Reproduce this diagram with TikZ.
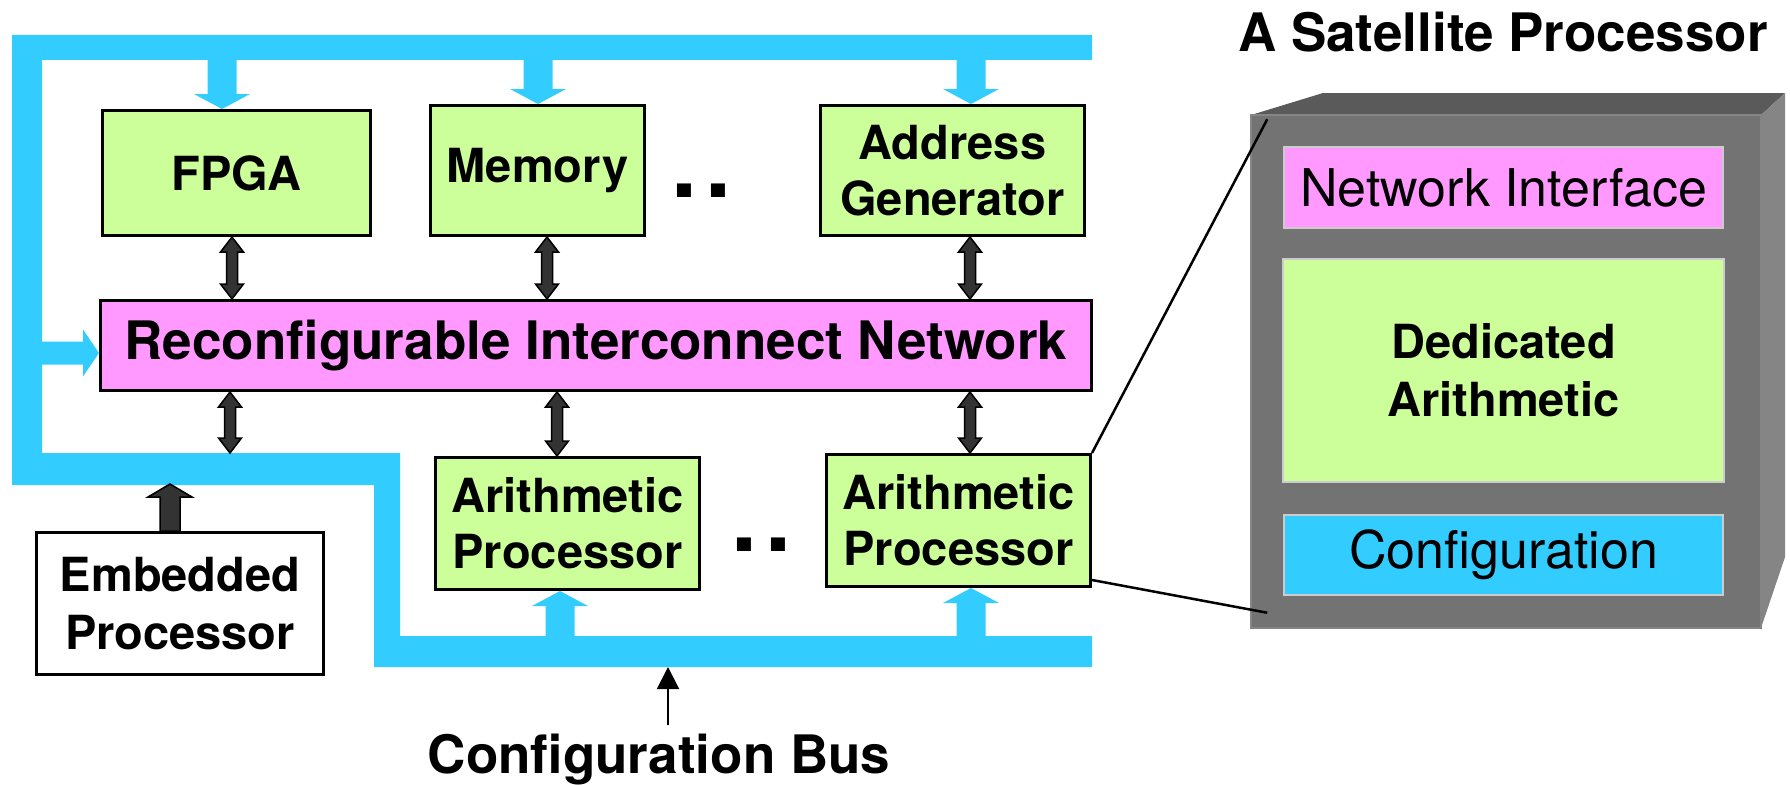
\documentclass[tikz,border=0pt]{standalone}
\usepackage{fontspec}
\setmainfont{TeX Gyre Heros}
\usetikzlibrary{calc,arrows.meta}

\definecolor{busblue}{HTML}{33CCFF}
\definecolor{boxgreen}{HTML}{CCFF99}
\definecolor{boxpink}{HTML}{FF99FF}
\definecolor{arrgray}{HTML}{333333}
\definecolor{facefront}{HTML}{737373}
\definecolor{facetop}{HTML}{5A5A5A}
\definecolor{faceside}{HTML}{858585}
\definecolor{innerline}{HTML}{CCCCCC}

\tikzset{
  unit/.style={draw=black, line width=3pt, fill=boxgreen, align=center, inner sep=0pt,
    font=\fontsize{47}{56}\selectfont\bfseries},
  inbox/.style={draw=innerline, line width=2pt, inner sep=0pt, align=center},
  % block arrows: #1 shaft half width, #2 head half width, #3 head length
  vblock/.style n args={3}{to path={
    let \p1=(\tikztostart), \p2=(\tikztotarget), \n1={ifthenelse(\y2>\y1,1,-1)} in
    (\x1-#1,\y1) -- (\x1-#1,\y2-\n1*#3) -- (\x1-#2,\y2-\n1*#3) -- (\x1,\y2)
    -- (\x1+#2,\y2-\n1*#3) -- (\x1+#1,\y2-\n1*#3) -- (\x1+#1,\y1) -- cycle}},
  hblock/.style n args={3}{to path={
    let \p1=(\tikztostart), \p2=(\tikztotarget), \n1={ifthenelse(\x2>\x1,1,-1)} in
    (\x1,\y1-#1) -- (\x2-\n1*#3,\y1-#1) -- (\x2-\n1*#3,\y1-#2) -- (\x2,\y1)
    -- (\x2-\n1*#3,\y1+#2) -- (\x2-\n1*#3,\y1+#1) -- (\x1,\y1+#1) -- cycle}},
  vdouble/.style n args={3}{to path={
    let \p1=(\tikztostart), \p2=(\tikztotarget), \n1={ifthenelse(\y2>\y1,1,-1)} in
    (\x1,\y1) -- (\x1+#2,\y1+\n1*#3) -- (\x1+#1,\y1+\n1*#3) -- (\x1+#1,\y2-\n1*#3)
    -- (\x1+#2,\y2-\n1*#3) -- (\x1,\y2) -- (\x1-#2,\y2-\n1*#3) -- (\x1-#1,\y2-\n1*#3)
    -- (\x1-#1,\y1+\n1*#3) -- (\x1-#2,\y1+\n1*#3) -- cycle}},
  dblarr/.style={draw=black, fill=arrgray, line width=1.5pt, vdouble={5.5pt}{11.5pt}{15pt}},
  buswire/.style={fill=busblue, vblock={14.5pt}{28pt}{15pt}},
}

\begin{document}
\begin{tikzpicture}[x=1pt, y=-1pt]
\useasboundingbox (0,0) rectangle (1790,784);

% reference lines of the configuration bus
\coordinate (topbus) at (0,60);
\coordinate (bustop) at (0,453);
\coordinate (midbus) at (0,484);
\coordinate (botbus) at (0,636);
\coordinate (busbot) at (0,667);
\coordinate (leftbus) at (42,0);

% the bus itself
\fill[busblue] (1092,35) -- (12,35) -- (12,485) -- (374,485) -- (374,667) -- (1092,667)
  -- (1092,636) -- (400,636) -- (400,453) -- (42,453) -- (42,60) -- (1092,60) -- cycle;

% units
\node[unit, minimum width=268pt, minimum height=125pt] (fpga) at (236.5,173) {FPGA};
\node[unit, minimum width=214pt, minimum height=130pt] (mem) at (537.5,170.5) {Memory};
\node[unit, minimum width=264pt, minimum height=130pt] (addr) at (952.5,170.5) {Address\\Generator};
\node[unit, fill=boxpink, minimum width=991pt, minimum height=90pt,
  font=\fontsize{53}{60}\selectfont\bfseries] (rin) at (596,345.5) {Reconfigurable Interconnect Network};
\node[unit, minimum width=264pt, minimum height=132pt] (ap1) at (567.5,523.5) {Arithmetic\\Processor};
\node[unit, minimum width=264pt, minimum height=132pt] (ap2) at (958.5,520.5) {Arithmetic\\Processor};
\node[unit, fill=white, minimum width=287pt, minimum height=142pt,
  font=\fontsize{47}{58}\selectfont\bfseries] (emb) at (180,603.5) {Embedded\\Processor};

% dots
\node[font=\fontsize{93}{93}\selectfont\bfseries, anchor=base west, inner sep=0pt] (dots1) at (671,197) {.\kern8pt.};
\node[font=\fontsize{93}{93}\selectfont\bfseries, anchor=base west, inner sep=0pt] (dots2) at (731,551) {.\kern8pt.};

% bus taps
\foreach \px/\nd in {222/fpga, 538/mem, 971/addr}
  \path[buswire] (\px,0 |- topbus) to (\px,0 |- \nd.north);
\foreach \px/\nd in {560/ap1, 971/ap2}
  \path[buswire] (\px,0 |- botbus) to (\px,0 |- \nd.south);
\fill[busblue] (leftbus |- 0,353) to[hblock={11.5pt}{23.5pt}{16pt}] (rin.west |- 0,353);

% links to the interconnect
\foreach \px/\nd in {232/fpga, 547/mem, 970/addr}
  \path[dblarr] (\px,0 |- \nd.south) to (\px,0 |- rin.north);
\foreach \px/\nd in {230/bustop, 557/ap1.north, 970/ap2.north}
  \path[dblarr] (\px,0 |- rin.south) to (\px,0 |- \nd);
\path[draw=black, fill=arrgray, line width=1.5pt] (170,0 |- emb.north)
  to[vblock={10pt}{22pt}{13pt}] (170,0 |- midbus);

% label of the bus
\node[font=\fontsize{53}{60}\selectfont\bfseries, anchor=base, inner sep=0pt] (cbus) at (659,773) {Configuration Bus};
\draw[line width=2pt, -{Triangle[width=22pt,length=22pt]}, shorten <=8pt]
  (cbus.north -| 668,0) -- (668,0 |- busbot);

% satellite processor
\node[font=\fontsize{53}{60}\selectfont\bfseries, anchor=base, inner sep=0pt] (title) at (1503,52) {A Satellite Processor};
\fill[facetop] (1251,115) -- (1323,93) -- (1785,93) -- (1761,115) -- cycle;
\fill[faceside] (1761,115) -- (1785,93) -- (1785,557) -- (1761,628) -- cycle;
\node[fill=facefront, draw=faceside, line width=1.5pt, minimum width=510pt, minimum height=513pt,
  inner sep=0pt] (sat) at (1506,371.5) {};
\node[inbox, fill=boxpink, minimum width=439pt, minimum height=81pt,
  font=\fontsize{52}{60}\selectfont] (ni) at (1503.5,187.5) {Network Interface};
\node[inbox, fill=boxgreen, minimum width=441pt, minimum height=223pt,
  font=\fontsize{47}{58}\selectfont\bfseries] (da) at (1503.5,370.5) {Dedicated\\Arithmetic};
\node[inbox, fill=busblue, minimum width=439pt, minimum height=80pt,
  font=\fontsize{52}{60}\selectfont] (cfg) at (1503.5,555) {Configuration};

% zoom lines
\draw[line width=2.5pt] (ap2.north east) -- ([shift={(17,5)}]sat.north west);
\draw[line width=2.5pt] ([yshift=8pt]ap2.south east) -- ([shift={(17,-16)}]sat.south west);

\end{tikzpicture}
\end{document}
